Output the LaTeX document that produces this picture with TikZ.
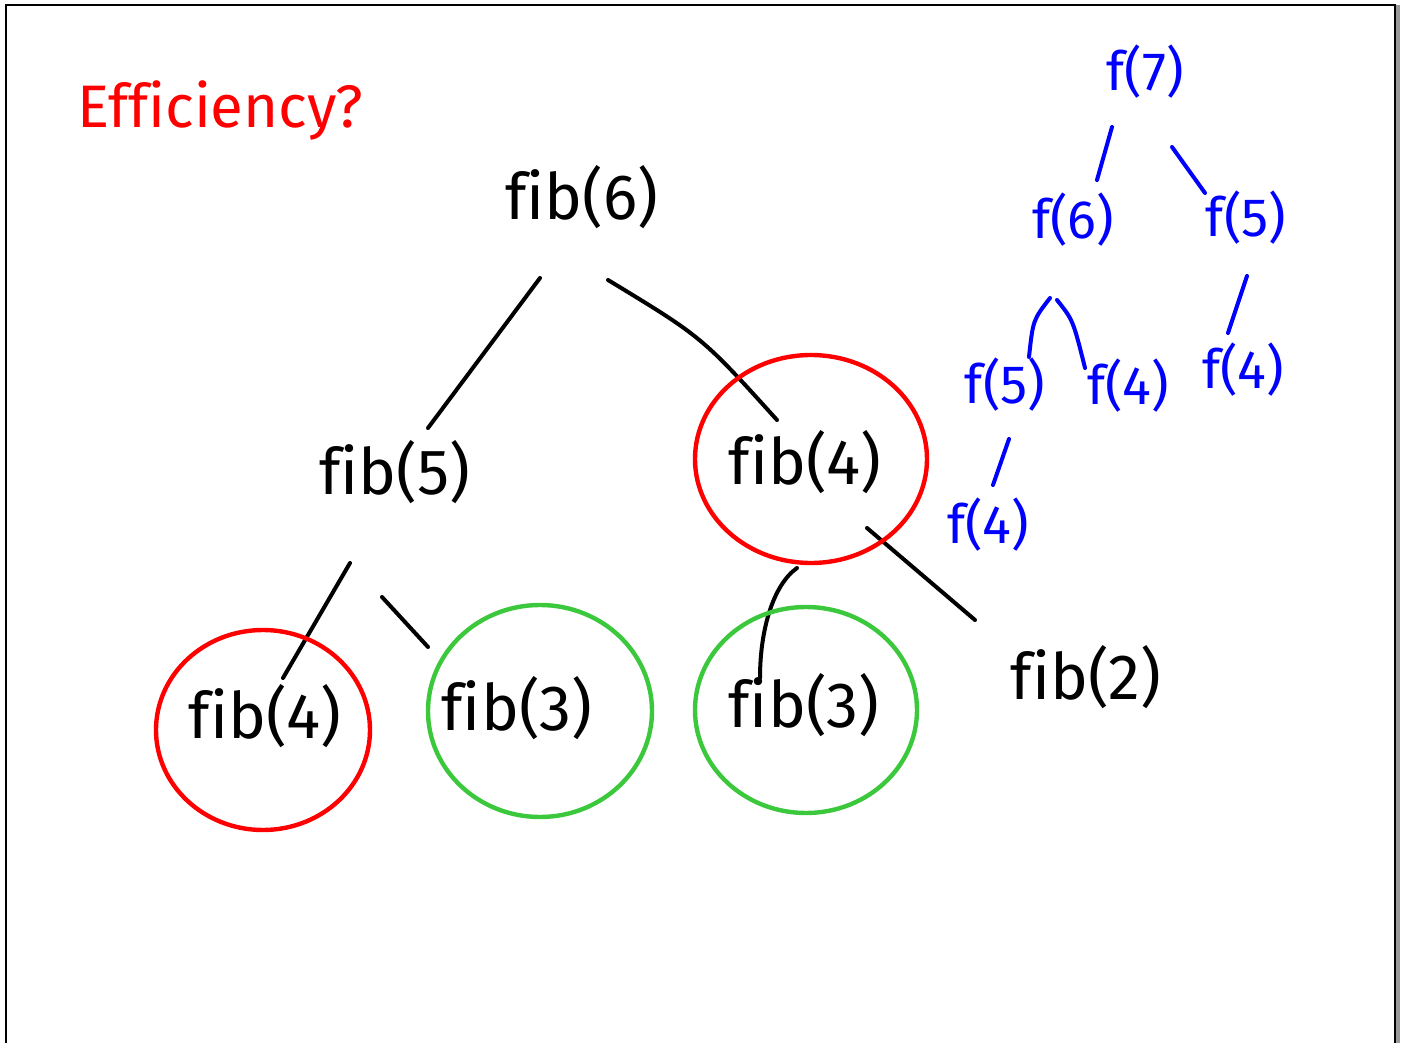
\documentclass[tikz,border=0pt]{standalone}
\usepackage{fontspec}
\setmainfont[Ligatures=NoCommon]{Fira Sans}
\usepackage{tikz}
\usetikzlibrary{calc}

\definecolor{inkred}{RGB}{255,0,0}
\definecolor{inkgreen}{RGB}{60,200,60}
\definecolor{inkblue}{RGB}{0,0,255}

\begin{document}
\begin{tikzpicture}[x=0.5pt, y=-0.5pt,
  fib/.style={font=\fontsize{32}{38}\selectfont, inner sep=0pt},
  fcall/.style={font=\fontsize{27}{32}\selectfont, text=inkblue, inner sep=0pt},
  ink/.style={line width=2pt, line cap=round, line join=round},
  bink/.style={ink, draw=inkblue},
  ring/.style={line width=2.2pt}]
\useasboundingbox (0,0) rectangle (1404,1043);
% page frame
\draw[line width=1.4pt] (6,1043) -- (6,5) -- (1395,5) -- (1395,1043);
\fill[black!40] (1396,5) rectangle (1400,1043);

\node[font=\fontsize{30}{36}\selectfont, text=inkred] (title) at (220,110) {Efficiency?};

% call tree
\node[fib] (fibsix) at (582,197) {fib(6)};
\node[fib] (fibfive) at (395,472) {fib(5)};
\node[fib] (fibfour) at (805,462) {fib(4)};
\node[fib] (fibfourl) at (265,716) {fib(4)};
\node[fib] (fibthreel) at (517,708) {fib(3)};
\node[fib] (fibthreer) at (804,705) {fib(3)};
\node[fib] (fibtwo) at (1086,677) {fib(2)};

\draw[ink] ($(fibsix)+(-42,81)$) -- ($(fibfive)+(33,-44)$);
\draw[ink] ($(fibsix)+(26,83)$) .. controls ($(fibsix)+(120,140)$) .. ($(fibfour)+(-28,-42)$);
\draw[ink] ($(fibfive)+(-45,91)$) -- ($(fibfourl)+(18,-38)$);
\draw[ink] ($(fibfive)+(-13,125)$) -- ($(fibthreel)+(-89,-61)$);
\draw[ink] ($(fibfour)+(-8,106)$) .. controls ($(fibfour)+(-32,123)$) and ($(fibthreer)+(-44,-75)$) .. ($(fibthreer)+(-44,-27)$);
\draw[ink] ($(fibfour)+(62,66)$) -- ($(fibtwo)+(-111,-57)$);

% repeated calls
\draw[ring, inkred] ($(fibfour)+(6,-3)$) ellipse [x radius=58pt, y radius=52pt];
\draw[ring, inkred] ($(fibfourl)+(-2,14)$) ellipse [x radius=53.5pt, y radius=50pt];
\draw[ring, inkgreen] ($(fibthreel)+(23,3)$) ellipse [x radius=56pt, y radius=53pt];
\draw[ring, inkgreen] ($(fibthreer)+(2,5)$) ellipse [x radius=55.5pt, y radius=51.5pt];

% small tree
\node[fcall] (fseven) at (1145,72) {f(7)};
\node[fcall] (fsix) at (1073,220) {f(6)};
\node[fcall] (ffive) at (1246,218) {f(5)};
\node[fcall] (ffivel) at (1005,385) {f(5)};
\node[fcall] (ffourm) at (1128,386) {f(4)};
\node[fcall] (ffourr) at (1243,370) {f(4)};
\node[fcall] (ffourb) at (988,525) {f(4)};

\draw[bink] ($(fseven)+(-33,55)$) -- ($(fsix)+(24,-40)$);
\draw[bink] ($(fseven)+(27,75)$) -- ($(ffive)+(-41,-25)$);
\draw[bink] ($(fsix)+(-23,78)$) .. controls ($(fsix)+(-40,100)$) .. ($(ffivel)+(24,-28)$);
\draw[bink] ($(fsix)+(-16,80)$) .. controls ($(fsix)+(0,100)$) .. ($(ffourm)+(-43,-18)$);
\draw[bink] ($(ffive)+(1,58)$) -- ($(ffourr)+(-15,-37)$);
\draw[bink] ($(ffivel)+(4,54)$) -- ($(ffourb)+(5,-40)$);
\end{tikzpicture}
\end{document}
